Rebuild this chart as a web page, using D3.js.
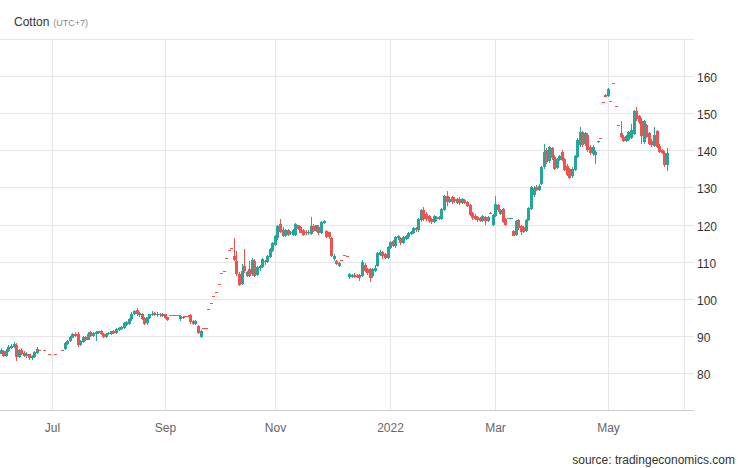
<!DOCTYPE html>
<html><head><meta charset="utf-8">
<script src="https://cdn.jsdelivr.net/npm/d3@7"></script>
<style>
html,body{margin:0;padding:0;background:#fff;}
svg{display:block;font-family:"Liberation Sans",Arial,Helvetica,sans-serif;}
</style></head><body>
<svg id="chart" width="746" height="468"></svg>
<script>
// ---------- data ----------
const titleText = "Cotton";
const subtitleText = "(UTC+7)";
const sourceText = "source: tradingeconomics.com";
const firstDay = "2021-06-03";
const lastDay = "2022-06-02";
const tickDates = ["2021-07-01","2021-09-01","2021-11-01","2022-01-03","2022-03-01","2022-05-02"];
const tickLabels = ["Jul","Sep","Nov","2022","Mar","May"];
const yTicks = [70,80,90,100,110,120,130,140,150,160,170];
const yLabelled = [80,90,100,110,120,130,140,150,160];

// null = no quote that day
const open = [
85.2,86.0,84.6,85.8,86.8,87.0,87.6,84.3,86.3,85.4,
84.5,85.0,84.0,84.2,85.4,86.2,null,86.2,null,85.1,
null,85.1,null,null,86.2,86.4,87.8,88.5,89.5,90.6,
90.4,87.6,88.4,89.6,89.0,90.9,90.0,90.4,90.8,91.2,
90.5,89.7,90.4,90.6,91.2,90.8,91.6,91.8,92.2,93.0,
93.2,94.4,95.8,96.9,95.6,95.9,94.8,93.4,94.9,95.6,
96.2,95.5,96.0,95.4,95.8,95.0,95.6,95.6,95.5,95.6,
94.4,94.8,95.3,95.4,95.6,94.0,93.1,92.6,89.8,92.1,
92.2,97.2,98.8,100.7,101.8,104.0,107.0,107.4,111.0,113.1,
113.7,111.5,110.2,106.7,103.9,108.9,106.2,108.0,106.6,110.2,
106.4,108.2,108.5,109.9,110.0,111.2,112.9,114.6,116.3,120.1,
118.6,117.0,118.6,117.6,117.3,117.1,119.8,119.3,118.4,118.0,
117.6,117.5,119.5,118.3,119.4,117.8,120.4,118.2,117.9,116.3,
110.7,110.2,108.9,110.4,111.8,111.5,105.8,105.9,106.5,106.3,
106.4,106.1,109.2,108.1,107.9,106.0,107.6,108.8,111.8,112.6,
112.0,111.0,113.6,115.6,114.2,116.3,116.4,115.0,116.2,116.5,
117.4,117.8,119.1,118.4,121.2,124.0,122.8,122.2,121.4,120.6,
121.4,122.1,121.5,124.0,127.7,126.0,127.3,126.9,125.8,127.0,
125.9,126.6,126.1,125.2,123.0,122.4,121.9,121.7,121.0,122.0,
121.0,123.2,119.9,122.4,125.2,122.8,124.2,121.5,121.6,121.6,
118.2,117.2,121.2,119.6,119.2,118.2,121.2,124.2,128.0,130.0,
129.2,130.9,135.4,140.2,137.0,140.6,138.2,135.2,137.4,139.6,
137.6,135.8,135.0,133.0,134.8,138.2,141.4,144.8,141.6,144.2,
141.0,139.0,138.6,142.2,143.3,153.0,155.0,154.6,153.3,158.1,
151.9,146.8,144.6,143.6,142.6,142.8,143.4,144.4,150.5,149.3,
148.0,142.2,146.8,144.6,142.6,141.2,145.2,141.2,140.0,139.4,136.0
];
const high = [
86.6,86.3,86.4,87.4,87.8,88.3,88.0,86.4,86.8,85.8,
85.5,85.2,84.8,85.9,86.9,86.2,null,86.2,null,85.1,
null,85.1,null,null,86.2,88.3,88.9,89.9,90.8,91.1,
90.9,88.9,90.0,89.9,90.9,91.2,91.0,91.2,91.4,91.5,
90.7,90.8,91.0,91.4,91.5,92.1,92.5,92.7,93.6,93.9,
94.9,96.3,97.0,97.4,96.4,96.1,95.0,95.2,96.0,96.8,
96.4,96.3,96.2,96.1,96.0,95.2,95.6,95.6,95.5,95.6,
95.5,95.4,95.3,95.5,95.9,94.3,94.3,92.9,91.5,92.1,
92.2,97.2,98.8,100.7,101.8,104.0,107.0,107.4,111.0,113.1,
113.7,116.4,112.8,107.2,109.3,113.4,107.6,110.2,111.0,110.7,
108.9,109.2,110.9,110.5,111.8,113.6,115.3,117.1,119.9,121.5,
119.4,118.8,118.9,118.2,118.7,120.4,120.0,119.6,118.8,118.5,
118.5,122.0,120.2,120.0,119.8,121.0,121.1,118.6,118.1,116.5,
112.0,110.5,109.8,110.4,111.8,111.5,106.8,106.7,106.8,106.6,
106.7,110.3,109.6,108.4,108.2,108.3,109.0,112.6,113.0,112.9,
112.3,114.2,115.5,115.9,117.0,117.3,116.7,116.9,117.1,117.9,
118.3,119.2,119.4,121.8,124.3,124.6,123.5,122.6,121.8,122.5,
122.4,122.4,124.5,128.0,129.0,127.5,127.8,127.4,127.2,127.4,
127.1,127.0,126.4,125.4,123.3,122.8,122.2,122.0,122.5,122.3,
122.3,123.3,122.8,127.8,125.6,124.1,124.5,121.8,121.8,121.7,
118.4,121.3,121.5,120.0,119.5,121.5,124.8,130.5,130.4,130.6,
130.8,135.9,141.7,140.6,141.2,141.0,138.6,137.8,138.8,140.2,
138.0,136.2,135.3,135.4,138.8,143.2,146.4,145.2,145.0,144.6,
141.4,141.3,140.0,142.5,143.3,153.0,155.1,156.7,153.3,158.1,
151.9,146.8,147.9,144.0,144.0,145.2,147.0,150.9,151.6,149.6,
148.6,148.2,147.2,145.0,143.0,146.4,145.5,141.6,140.4,139.8,140.6
];
const low = [
85.0,84.2,84.4,85.6,86.4,86.8,83.2,84.0,84.8,84.3,
84.1,83.6,83.5,83.9,85.2,86.2,null,86.2,null,85.1,
null,85.1,null,null,86.2,86.2,87.5,88.3,89.3,89.8,
87.0,87.3,88.1,88.6,88.8,89.7,89.6,88.6,90.5,90.2,
89.4,89.5,90.1,90.3,90.5,90.6,91.3,91.5,91.9,92.7,
93.0,94.1,95.5,95.4,95.0,94.3,92.9,93.0,94.6,95.3,
95.3,95.2,95.2,95.1,94.5,93.9,95.6,95.6,95.5,95.4,
94.0,94.4,95.3,95.1,93.2,92.9,92.8,90.5,89.4,92.1,
92.2,97.2,98.8,100.7,101.8,104.0,107.0,107.4,111.0,113.1,
113.7,110.2,106.0,103.3,103.7,107.0,105.8,105.8,106.2,105.8,
106.0,107.6,108.2,109.2,109.7,110.9,112.5,114.2,115.8,117.7,
116.6,116.7,116.8,117.2,116.9,116.8,118.6,117.6,117.0,117.1,
117.3,117.2,117.9,118.0,117.3,117.4,120.1,116.4,116.2,111.2,
110.2,109.2,108.6,110.4,111.8,111.5,105.4,105.5,105.6,105.5,
104.8,105.8,107.2,106.5,104.4,105.7,107.2,108.5,111.4,110.8,
110.6,110.8,113.3,114.0,113.8,115.7,114.6,114.8,115.9,116.2,
117.1,117.4,118.0,118.1,120.8,121.0,121.0,120.5,120.1,120.3,
121.0,121.2,121.2,123.7,125.0,125.7,125.6,125.8,125.5,125.3,
125.6,125.5,124.8,122.2,121.3,121.2,120.8,120.6,120.7,119.8,
120.7,122.8,119.6,122.1,123.5,122.5,120.3,119.5,121.6,121.6,
116.8,116.8,118.6,117.2,117.6,118.0,120.9,123.9,127.4,129.0,
128.9,130.6,135.0,136.4,136.7,137.4,134.6,134.9,137.0,137.0,
134.4,133.0,132.2,132.6,134.5,137.9,141.0,141.0,141.2,139.6,
138.8,138.5,136.4,142.1,143.3,153.0,154.3,154.5,153.3,158.1,
151.9,146.8,143.3,142.3,142.3,142.5,143.0,144.2,148.0,147.2,
141.6,141.8,143.2,141.4,141.0,140.8,140.6,139.2,139.0,135.6,134.4
];
const close = [
86.3,84.5,86.0,87.0,87.3,87.8,84.2,86.1,85.0,84.6,
85.2,84.0,84.5,85.6,86.5,86.2,null,86.2,null,85.1,
null,85.1,null,null,86.2,88.0,88.6,89.6,90.5,90.0,
87.5,88.6,89.8,89.0,90.6,90.0,90.8,91.0,91.2,90.4,
89.6,90.5,90.8,91.2,90.8,91.8,92.2,92.4,93.4,93.6,
94.6,96.0,96.6,95.9,96.2,94.6,93.2,95.0,95.8,96.0,
95.6,96.0,95.5,95.9,94.8,94.2,95.6,95.6,95.5,95.4,
95.3,95.2,95.3,95.1,93.6,93.2,94.0,90.8,91.3,92.1,
92.2,97.2,98.8,100.7,101.8,104.0,107.0,107.4,111.0,113.1,
113.7,110.4,106.6,103.6,107.4,107.4,107.2,106.1,110.5,106.2,
108.5,108.8,110.6,110.2,111.5,113.4,115.0,116.8,119.6,118.0,
116.9,118.4,117.1,117.9,118.4,120.1,118.9,117.8,117.3,117.6,
118.1,119.6,118.2,119.8,117.6,120.6,120.9,116.6,116.5,111.5,
111.5,109.4,109.6,110.4,111.8,111.5,106.6,106.4,105.9,105.8,
105.6,109.9,107.6,106.9,105.6,108.0,108.4,112.2,112.6,111.4,
110.9,113.9,115.2,114.3,116.6,117.0,114.9,116.6,116.8,117.6,
118.0,119.0,118.4,121.5,124.0,121.6,121.5,120.9,120.6,122.2,
122.0,121.5,124.2,127.6,126.1,127.0,126.0,126.2,126.8,125.8,
126.8,125.8,125.1,122.6,121.8,121.5,121.2,121.0,122.2,120.9,
122.0,122.9,122.5,125.6,123.9,123.8,120.6,119.8,121.8,121.7,
117.0,121.0,119.0,118.0,118.0,121.2,124.4,130.2,129.8,129.4,
130.4,135.6,139.5,136.8,140.8,137.8,135.0,137.6,138.4,137.4,
134.8,133.4,132.6,135.0,138.4,142.8,145.0,141.4,144.6,140.0,
139.2,141.0,139.6,142.4,143.3,153.0,154.4,156.5,153.3,158.1,
151.9,146.8,143.6,142.6,143.8,144.8,145.6,150.5,148.4,147.6,
143.8,147.8,143.6,141.8,141.4,144.0,141.0,139.6,139.4,136.0,139.2
];

// ---------- layout ----------
const W = 746, H = 468;
const plotL = 0, plotR = 684, plotT = 39, plotB = 410;
const upColor = "#26a69a", downColor = "#ef5350";
const gridColor = "#e6e6e6";

const parse = d3.utcParse("%Y-%m-%d");
const days = d3.utcDay.range(parse(firstDay), d3.utcDay.offset(parse(lastDay), 1))
  .filter(d => d.getUTCDay() % 6 !== 0);
const n = Math.min(days.length, open.length, high.length, low.length, close.length);

const x = d3.scaleLinear().domain([-0.3, 266.7]).range([plotL, plotR]);
const y = d3.scaleLinear().domain([70, 170]).range([plotB, plotT]);
const xR = x.copy().interpolate(d3.interpolateRound);
const yR = y.copy().interpolate(d3.interpolateRound);

const bis = d3.bisector(d => d).left;
const tickIdx = tickDates.map(s => bis(days, parse(s)));

const svg = d3.select("#chart");
svg.append("rect").attr("width", W).attr("height", H).attr("fill", "#fff");

// horizontal gridlines
const gGrid = svg.append("g").attr("transform", `translate(${plotR},0)`)
  .call(d3.axisLeft(yR).tickValues(yTicks).tickSize(plotR - plotL).tickFormat(""));
gGrid.select(".domain").remove();
gGrid.selectAll("line").attr("stroke", gridColor);

// vertical gridlines
const gVGrid = svg.append("g").attr("transform", `translate(0,${plotB})`)
  .call(d3.axisBottom(xR).tickValues(tickIdx).tickSize(-(plotB - plotT)).tickFormat(""));
gVGrid.select(".domain").remove();
gVGrid.selectAll("line").attr("stroke", gridColor);

// right border
svg.append("line").attr("x1", plotR + 0.5).attr("x2", plotR + 0.5)
  .attr("y1", plotT).attr("y2", plotB + 1).attr("stroke", gridColor);

// right axis ticks + labels
const gY = svg.append("g").attr("transform", `translate(${plotR},0)`)
  .call(d3.axisRight(yR).tickValues(yTicks).tickSize(10).tickPadding(3)
    .tickFormat(v => yLabelled.includes(v) ? String(v) : ""));
gY.select(".domain").remove();
gY.selectAll("line").attr("stroke", gridColor);
gY.selectAll("text").attr("fill", "#333").attr("font-size", 12)
  .attr("font-family", "Liberation Sans, Arial, sans-serif").attr("dy", "0.42em");

// bottom axis line
svg.append("line").attr("x1", plotL).attr("x2", plotR + 10)
  .attr("y1", plotB + 0.5).attr("y2", plotB + 0.5).attr("stroke", "#cccccc");

// x labels
const gX = svg.append("g").attr("transform", `translate(0,${plotB})`)
  .call(d3.axisBottom(xR).tickValues(tickIdx).tickSize(0)
    .tickFormat((d, i) => tickLabels[i]));
gX.select(".domain").remove();
gX.selectAll("text").attr("y", 22).attr("dy", 0).attr("fill", "#666")
  .attr("font-size", 12).attr("font-family", "Liberation Sans, Arial, sans-serif");

// candles
svg.append("clipPath").attr("id", "clip").append("rect")
  .attr("x", plotL).attr("y", plotT).attr("width", plotR - plotL).attr("height", plotB - plotT);
const gC = svg.append("g").attr("clip-path", "url(#clip)");
const idx = d3.range(n).filter(i => open[i] != null && close[i] != null);
const cg = gC.selectAll("g.c").data(idx).join("g").attr("class", "c")
  .attr("fill", i => close[i] > open[i] ? upColor : downColor);
cg.append("rect")
  .attr("x", i => Math.round(x(i)))
  .attr("width", 1)
  .attr("y", i => Math.round(y(high[i])))
  .attr("height", i => Math.max(1, Math.round(y(low[i])) - Math.round(y(high[i]))));
cg.append("rect")
  .attr("x", i => Math.round(x(i)) - 1)
  .attr("width", 3)
  .attr("y", i => Math.round(y(Math.max(open[i], close[i]))))
  .attr("height", i => Math.max(1, Math.round(y(Math.min(open[i], close[i]))) - Math.round(y(Math.max(open[i], close[i])))));

// title
const t = svg.append("text").attr("x", 14).attr("y", 26)
  .attr("font-size", 12).attr("fill", "#333");
t.append("tspan").text(titleText);
t.append("tspan").attr("dx", 4).attr("font-size", 9).attr("fill", "#888").text(subtitleText);

// source
svg.append("text").attr("x", 735).attr("y", 463.5).attr("text-anchor", "end")
  .attr("font-size", 12).attr("fill", "#333").text(sourceText);
</script>
</body></html>
